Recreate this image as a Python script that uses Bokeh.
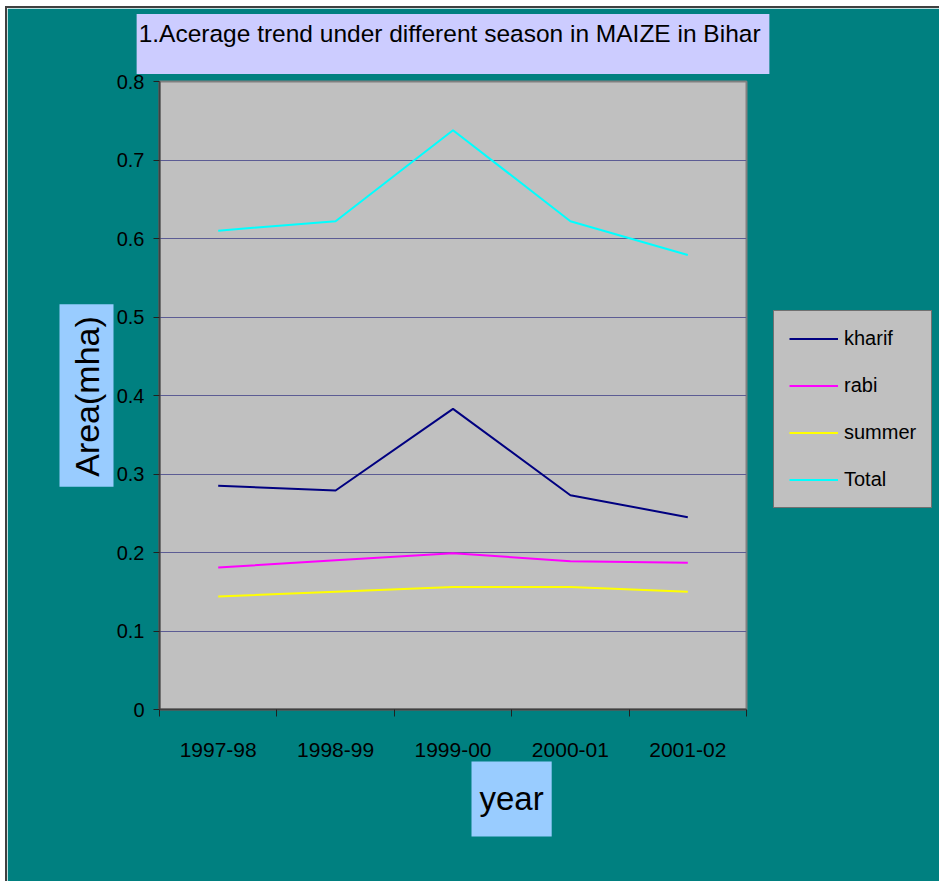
from bokeh.plotting import figure
from bokeh.models import (Range1d, FixedTicker, Legend, LegendItem, Title)
from bokeh.embed import file_html
from bokeh.resources import INLINE

# Maize area (million ha) in Bihar by season
years = ["1997-98", "1998-99", "1999-00", "2000-01", "2001-02"]
kharif = [0.285, 0.279, 0.383, 0.273, 0.245]
rabi = [0.181, 0.190, 0.199, 0.189, 0.187]
summer = [0.144, 0.150, 0.156, 0.156, 0.150]
total = [0.610, 0.622, 0.738, 0.622, 0.579]
y_ticks = [0, 0.1, 0.2, 0.3, 0.4, 0.5, 0.6, 0.7, 0.8]

TEAL = "#008080"
PLOT_GRAY = "#C0C0C0"
SANS = "Liberation Sans"

xs = [i + 0.5 for i in range(len(years))]

p = figure(frame_width=587, frame_height=628, output_backend="svg", toolbar_location=None,
           x_range=Range1d(0, len(years)), y_range=Range1d(0, 0.8),
           min_border_left=152, min_border_right=193,
           min_border_top=73, min_border_bottom=172)
p.margin = (6, 0, 0, 5)
p.styles = {"border-top": "2px solid #404040", "border-left": "2px solid #404040"}

p.background_fill_color = PLOT_GRAY
p.border_fill_color = TEAL
p.outline_line_color = "#808080"
p.outline_line_width = 2

# grid
p.xgrid.grid_line_color = None
p.ygrid.ticker = FixedTicker(ticks=y_ticks)
p.ygrid.grid_line_color = "#5c5c94"
p.ygrid.grid_line_width = 1

# y axis
p.yaxis.ticker = FixedTicker(ticks=y_ticks)
p.yaxis.major_label_overrides = {0: "0"}
p.yaxis.major_label_text_font = SANS
p.yaxis.major_label_text_font_size = "20px"
p.yaxis.major_label_text_color = "black"
p.yaxis.major_tick_out = 6
p.yaxis.major_tick_in = 0
p.yaxis.minor_tick_line_color = None
p.yaxis.major_label_standoff = 9
p.yaxis.axis_line_color = "#404040"
p.yaxis.axis_line_width = 2
p.yaxis.major_tick_line_color = "#202020"

# x axis: labels at category centres, tick marks on category boundaries
p.xaxis.ticker = FixedTicker(ticks=xs, minor_ticks=list(range(len(years) + 1)))
p.xaxis.major_label_overrides = {x: y for x, y in zip(xs, years)}
p.xaxis.major_label_text_font = SANS
p.xaxis.major_label_text_font_size = "21px"
p.xaxis.major_label_text_color = "black"
p.xaxis.major_tick_line_color = None
p.xaxis.minor_tick_out = 7
p.xaxis.minor_tick_in = 0
p.xaxis.minor_tick_line_color = "#202020"
p.xaxis.major_label_standoff = 26
p.xaxis.axis_line_color = "#404040"
p.xaxis.axis_line_width = 2

# series lines
r_k = p.line(xs, kharif, line_color="#000080", line_width=2)
r_r = p.line(xs, rabi, line_color="#FF00FF", line_width=2)
r_s = p.line(xs, summer, line_color="#FFFF00", line_width=2)
r_t = p.line(xs, total, line_color="#00FFFF", line_width=2)

legend = Legend(items=[LegendItem(label="kharif", renderers=[r_k]),
                       LegendItem(label="rabi", renderers=[r_r]),
                       LegendItem(label="summer", renderers=[r_s]),
                       LegendItem(label="Total", renderers=[r_t])],
                location=(27, 201))
legend.background_fill_color = PLOT_GRAY
legend.background_fill_alpha = 1
legend.border_line_color = "#202020"
legend.border_line_width = 1
legend.label_text_font = SANS
legend.label_text_font_size = "20px"
legend.label_text_color = "black"
legend.glyph_width = 49
legend.glyph_height = 25
legend.label_height = 25
legend.spacing = 22
legend.padding = 15
legend.margin = 0
legend.label_standoff = 6
p.add_layout(legend, "right")

# chart title on a lavender box (blank second line keeps the text near the top)
title = Title(text="1.Acerage trend under different season in MAIZE in  Bihar\n ",
              text_font=SANS, text_font_size="24.5px", text_color="black",
              text_font_style="normal", align="center", vertical_align="top",
              text_line_height=1.0,
              background_fill_color="#CCCCFF", padding=(2, 2, 6, 0), standoff=11)
p.add_layout(title, "above")

# axis titles on light-blue boxes
ylab = Title(text="Area(mha)", text_font=SANS, text_font_size="34px",
             text_color="black", text_font_style="normal", align="center",
             background_fill_color="#99CCFF", padding=(10, 12, 8, 8), standoff=0)
p.add_layout(ylab, "left")

xlab = Title(text="year", text_font=SANS, text_font_size="33px",
             text_color="black", text_font_style="normal", align="left", offset=312,
             background_fill_color="#99CCFF", padding=(8, 8, 18, 20), standoff=0)
p.add_layout(xlab, "below")

open("out.html", "w").write(file_html(p, INLINE))
